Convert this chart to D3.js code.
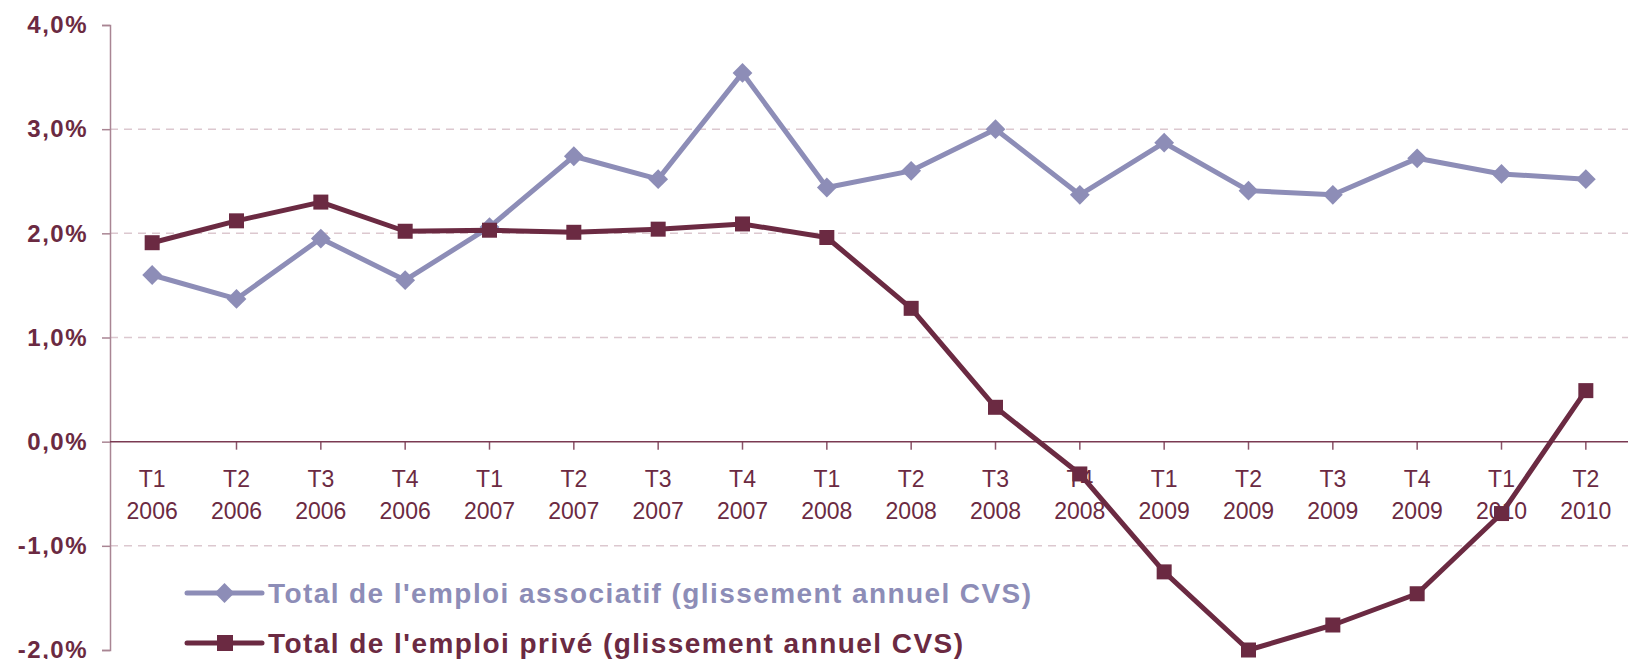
<!DOCTYPE html>
<html>
<head>
<meta charset="utf-8">
<script src="https://cdn.jsdelivr.net/npm/d3@7"></script>
<style>
  body { margin: 0; background: #fff; }
  text { font-family: "Liberation Sans", Arial, sans-serif; }
</style>
</head>
<body>
<div id="chart"></div>
<script>
// Data
var trimestres = ["T1","T2","T3","T4","T1","T2","T3","T4","T1","T2","T3","T4","T1","T2","T3","T4","T1","T2"],
  annees = ["2006","2006","2006","2006","2007","2007","2007","2007","2008","2008","2008","2008","2009","2009","2009","2009","2010","2010"],
  associatif = [1.60, 1.37, 1.95, 1.55, 2.06, 2.74, 2.52, 3.54, 2.44, 2.60, 3.00, 2.37, 2.87, 2.41, 2.37, 2.72, 2.57, 2.52],
  prive = [1.91, 2.12, 2.30, 2.02, 2.03, 2.01, 2.04, 2.09, 1.96, 1.28, 0.33, -0.31, -1.25, -2.00, -1.76, -1.46, -0.69, 0.49],
  yTicks = [4, 3, 2, 1, 0, -1, -2],
  yTickLabels = ["4,0%", "3,0%", "2,0%", "1,0%", "0,0%", "-1,0%", "-2,0%"],
  legendLabels = ["Total de l'emploi associatif (glissement annuel CVS)", "Total de l'emploi privé (glissement annuel CVS)"];

// Placement
var width = 1628,
  height = 659,
  mLeft = 110,
  yTop = 25,
  yBottom = 650;

var colAsso = "#8d8db7",
  colPrive = "#6b2a42",
  colText = "#6b2a42";

var cats = d3.range(trimestres.length);

var x = d3.scaleBand()
  .domain(cats)
  .range([mLeft, width]);
var y = d3.scaleLinear()
  .domain([-2, 4])
  .range([yBottom, yTop]);

function cx(i) { return x(i) + x.bandwidth() / 2; };

var svg = d3.select("#chart")
  .append("svg")
  .attr("width", width)
  .attr("height", height);

// gridlines (dashed)
svg.append("g").selectAll("line")
  .data(yTicks.filter(function(t) { return t != 0 && t != 4 && t != -2; }))
  .enter().append("line")
  .attr("x1", mLeft)
  .attr("x2", width)
  .attr("y1", function(d) { return y(d); })
  .attr("y2", function(d) { return y(d); })
  .attr("stroke", "#dcc8cf")
  .attr("stroke-width", 1.5)
  .attr("stroke-dasharray", "8,6");

// y axis
var yAxis = d3.axisLeft(y)
  .tickValues(yTicks)
  .tickSize(8)
  .tickPadding(14)
  .tickFormat(function(d, i) { return yTickLabels[i]; });

var gy = svg.append("g")
  .attr("transform", "translate(" + mLeft + ",0)")
  .call(yAxis);
gy.select(".domain").attr("stroke", "#a98593").attr("stroke-width", 1.5);
gy.selectAll(".tick line").attr("stroke", "#a98593").attr("stroke-width", 1.5);
gy.selectAll(".tick text")
  .attr("fill", colText)
  .attr("font-size", 24)
  .attr("font-weight", "bold")
  .attr("letter-spacing", 1.5)
  .attr("font-family", "Liberation Sans, Arial, sans-serif");

// zero line + x ticks
var xAxis = d3.axisBottom(x)
  .tickValues(d3.range(1, trimestres.length))
  .tickSize(8)
  .tickFormat("");
var gx = svg.append("g")
  .attr("transform", "translate(" + (x.bandwidth() / 2) + "," + y(0) + ")")
  .call(xAxis);
gx.select(".domain").remove();
gx.selectAll(".tick line").attr("stroke", "#8a5468").attr("stroke-width", 1.5)
  .attr("transform", "translate(" + (-x.bandwidth() / 2) + ",0)");

svg.append("line")
  .attr("x1", mLeft)
  .attr("x2", width)
  .attr("y1", y(0))
  .attr("y2", y(0))
  .attr("stroke", "#7a3a52")
  .attr("stroke-width", 1.5);

// category labels
var catLab = svg.append("g").selectAll("text")
  .data(cats)
  .enter().append("text")
  .attr("x", function(d) { return cx(d); })
  .attr("text-anchor", "middle")
  .attr("fill", colText)
  .attr("font-size", 23);
catLab.append("tspan")
  .attr("x", function(d) { return cx(d); })
  .attr("y", y(0) + 45)
  .text(function(d) { return trimestres[d]; });
catLab.append("tspan")
  .attr("x", function(d) { return cx(d); })
  .attr("y", y(0) + 77)
  .text(function(d) { return annees[d]; });

// lines
var line = d3.line()
  .x(function(d, i) { return cx(i); })
  .y(function(d) { return y(d); });

svg.append("path")
  .datum(associatif)
  .attr("d", line)
  .attr("fill", "none")
  .attr("stroke", colAsso)
  .attr("stroke-width", 5)
  .attr("stroke-linejoin", "round");

svg.append("g").selectAll("rect")
  .data(associatif)
  .enter().append("rect")
  .attr("x", -7)
  .attr("y", -7)
  .attr("width", 14)
  .attr("height", 14)
  .attr("fill", colAsso)
  .attr("transform", function(d, i) { return "translate(" + cx(i) + "," + y(d) + ") rotate(45)"; });

svg.append("path")
  .datum(prive)
  .attr("d", line)
  .attr("fill", "none")
  .attr("stroke", colPrive)
  .attr("stroke-width", 5)
  .attr("stroke-linejoin", "round");

svg.append("g").selectAll("rect")
  .data(prive)
  .enter().append("rect")
  .attr("x", function(d, i) { return cx(i) - 7.5; })
  .attr("y", function(d) { return y(d) - 7.5; })
  .attr("width", 15)
  .attr("height", 15)
  .attr("fill", colPrive);

// legend
var legY = [593, 643],
  legW = [763, 695],
  legCol = [colAsso, colPrive];

var leg = svg.append("g").selectAll("g")
  .data(legendLabels)
  .enter().append("g")
  .attr("transform", function(d, i) { return "translate(0," + legY[i] + ")"; });

leg.append("line")
  .attr("x1", 187)
  .attr("x2", 262)
  .attr("stroke", function(d, i) { return legCol[i]; })
  .attr("stroke-width", 5)
  .attr("stroke-linecap", "round");

leg.filter(function(d, i) { return i == 0; }).append("rect")
  .attr("x", -7).attr("y", -7).attr("width", 14).attr("height", 14)
  .attr("fill", colAsso)
  .attr("transform", "translate(224.5,0) rotate(45)");

leg.filter(function(d, i) { return i == 1; }).append("rect")
  .attr("x", 217).attr("y", -8).attr("width", 16).attr("height", 16)
  .attr("fill", colPrive);

leg.append("text")
  .attr("x", 268)
  .attr("y", 10)
  .attr("fill", function(d, i) { return legCol[i]; })
  .attr("font-size", 28)
  .attr("font-weight", "bold")
  .attr("textLength", function(d, i) { return legW[i]; })
  .attr("lengthAdjust", "spacing")
  .text(function(d) { return d; });
</script>
</body>
</html>
